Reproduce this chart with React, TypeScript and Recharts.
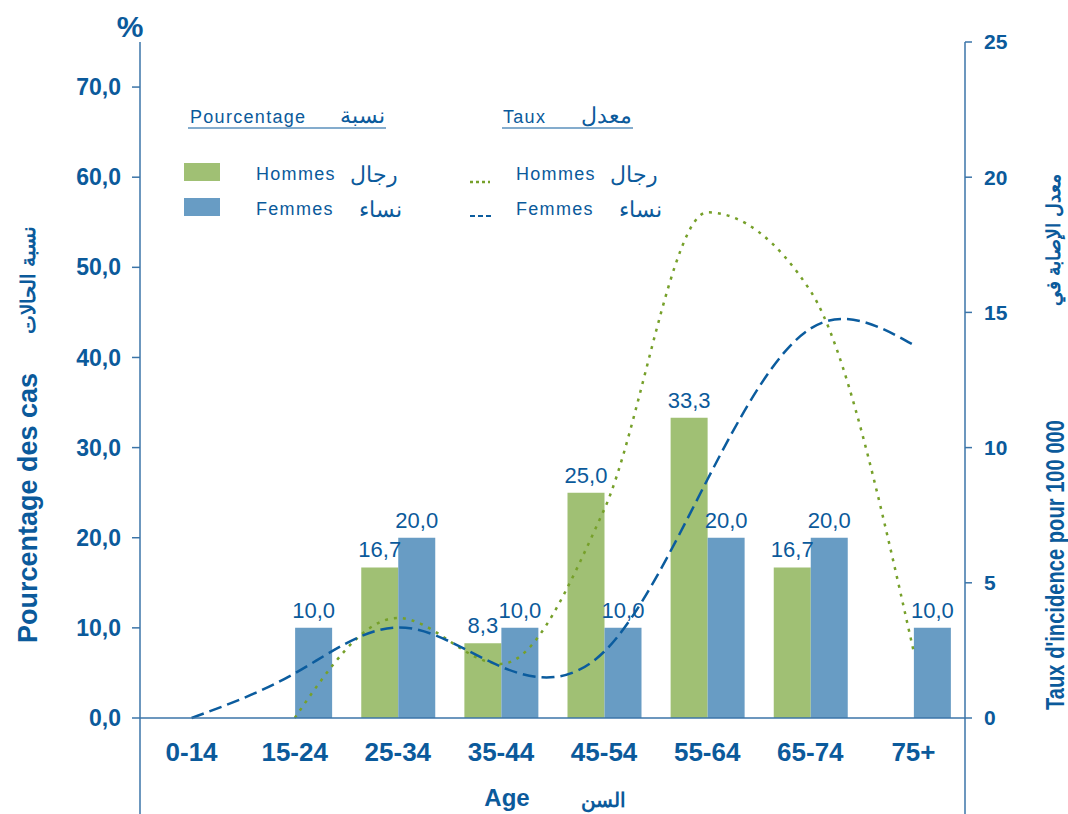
import { Bar, ComposedChart, LabelList, Line, XAxis, YAxis } from "recharts"

const ages = ["0-14", "15-24", "25-34", "35-44", "45-54", "55-64", "65-74", "75+"]
const pctHommes = [0, 0, 16.7, 8.3, 25.0, 33.3, 16.7, 0]
const pctFemmes = [0, 10.0, 20.0, 10.0, 10.0, 20.0, 20.0, 10.0]
const tauxHommes = [null, 0, 3.7, 2.0, 7.7, 18.7, 15.8, 2.5]
const tauxFemmes = [0, 1.65, 3.35, 1.9, 2.45, 8.8, 14.4, 13.8]
const pctTicks = [0, 10, 20, 30, 40, 50, 60, 70]
const tauxTicks = [0, 5, 10, 15, 20, 25]

const data = ages.map((age, i) => ({
  age,
  pctH: pctHommes[i],
  pctF: pctFemmes[i],
  tauxH: tauxHommes[i],
  tauxF: tauxFemmes[i],
}))

const TEXT = "#0b5a9b"
const AXIS = "#3b74a8"
const GREEN = "#a0c074"
const BLUE = "#689cc4"
const GREEN_LINE = "#76a02a"
const BLUE_LINE = "#0b5c9e"
const SANS = "'Liberation Sans', Arial, sans-serif"
const NARROW = "'Liberation Sans Narrow', 'Liberation Sans', Arial, sans-serif"

const fmt = (v: any) => (v ? Number(v).toFixed(1).replace(".", ",") : "")

function Overlay() {
  const latin = { fontFamily: SANS, fontSize: 18, fill: TEXT, letterSpacing: 1.3 }
  const arabic = { fontFamily: SANS, fontSize: 22, fill: TEXT }
  return (
    <svg width={1068} height={814} style={{ position: "absolute", left: 0, top: 0, pointerEvents: "none" }}>
      {/* axis lines continue below the category axis */}
      <line x1={140} y1={718} x2={140} y2={814} stroke={AXIS} strokeWidth={1.5} />
      <line x1={965} y1={718} x2={965} y2={814} stroke={AXIS} strokeWidth={1.5} />

      <text x={130} y={37} textAnchor="middle" fontFamily={SANS} fontWeight="bold" fontSize={30} fill={TEXT}>%</text>

      {/* legend */}
      <text x={190} y={123} {...latin}>Pourcentage</text>
      <text x={385} y={123} textAnchor="end" {...arabic}>نسبة</text>
      <line x1={188} y1={128} x2={386} y2={128} stroke={TEXT} strokeWidth={1.2} />
      <text x={503} y={123} {...latin}>Taux</text>
      <text x={632} y={123} textAnchor="end" {...arabic}>معدل</text>
      <line x1={502} y1={128} x2={633} y2={128} stroke={TEXT} strokeWidth={1.2} />

      <rect x={184} y={163} width={36} height={18} fill={GREEN} />
      <text x={256} y={180} {...latin}>Hommes</text>
      <text x={398} y={182} textAnchor="end" {...arabic}>رجال</text>
      <rect x={184} y={198} width={36} height={18} fill={BLUE} />
      <text x={256} y={215} {...latin}>Femmes</text>
      <text x={402} y={217} textAnchor="end" {...arabic}>نساء</text>

      <line x1={470} y1={182} x2={490} y2={182} stroke={GREEN_LINE} strokeWidth={2.5} strokeDasharray="3 3" />
      <text x={516} y={180} {...latin}>Hommes</text>
      <text x={658} y={182} textAnchor="end" {...arabic}>رجال</text>
      <line x1={470} y1={216} x2={492} y2={216} stroke={BLUE_LINE} strokeWidth={2} strokeDasharray="5 3" />
      <text x={516} y={215} {...latin}>Femmes</text>
      <text x={662} y={217} textAnchor="end" {...arabic}>نساء</text>

      {/* axis titles */}
      <text transform="translate(37,508) rotate(-90)" textAnchor="middle" fontFamily={NARROW} fontWeight="bold" fontSize={27} fill={TEXT}>
        Pourcentage des cas
      </text>
      <text transform="translate(35,280) rotate(-90)" textAnchor="middle" fontFamily={SANS} fontWeight="bold" fontSize={20} fill={TEXT}>
        نسبة الحالات
      </text>
      <text
        transform="translate(1064,565) rotate(-90)"
        textAnchor="middle"
        fontFamily={NARROW}
        fontWeight="bold"
        fontSize={25}
        fill={TEXT}
        textLength={290}
        lengthAdjust="spacingAndGlyphs"
      >
        Taux d'incidence pour 100 000
      </text>
      <text transform="translate(1060,240) rotate(-90)" textAnchor="middle" fontFamily={SANS} fontWeight="bold" fontSize={19} fill={TEXT}>
        معدل الإصابة في
      </text>

      <text x={507} y={806} textAnchor="middle" fontFamily={SANS} fontWeight="bold" fontSize={24} fill={TEXT}>Age</text>
      <text x={603} y={807} textAnchor="middle" fontFamily={SANS} fontWeight="bold" fontSize={20} fill={TEXT}>السن</text>
    </svg>
  )
}

export default function App() {
  return (
    <div style={{ position: "absolute", left: 0, top: 0, width: 1068, height: 814, background: "#fff" }}>
      <ComposedChart
        width={1068}
        height={814}
        data={data}
        margin={{ top: 42, right: 43, bottom: 46, left: 60 }}
        barGap={0}
      >
        <XAxis
          dataKey="age"
          height={50}
          axisLine={{ stroke: AXIS, strokeWidth: 1.5 }}
          tickLine={false}
          tickMargin={19}
          interval={0}
          tick={{ fill: TEXT, fontFamily: NARROW, fontWeight: "bold", fontSize: 26 }}
        />
        <YAxis
          yAxisId="pct"
          width={80}
          domain={[0, 75]}
          ticks={pctTicks}
          allowDataOverflow
          axisLine={{ stroke: AXIS, strokeWidth: 1.5 }}
          tickLine={{ stroke: AXIS, strokeWidth: 1.5 }}
          tickSize={8}
          tickMargin={11}
          tickFormatter={(v: number) => v.toFixed(1).replace(".", ",")}
          tick={{ fill: TEXT, fontFamily: SANS, fontWeight: "bold", fontSize: 23 }}
        />
        <YAxis
          yAxisId="rate"
          orientation="right"
          width={60}
          domain={[0, 25]}
          ticks={tauxTicks}
          axisLine={{ stroke: AXIS, strokeWidth: 1.5 }}
          tickLine={{ stroke: AXIS, strokeWidth: 1.5 }}
          tickSize={7}
          tickMargin={12}
          tick={{ fill: TEXT, fontFamily: SANS, fontWeight: "bold", fontSize: 21 }}
        />
        <Bar yAxisId="pct" dataKey="pctH" fill={GREEN} barSize={37} isAnimationActive={false}>
          <LabelList dataKey="pctH" position="top" offset={10} formatter={fmt} fill={TEXT} fontFamily={SANS} fontSize={22} />
        </Bar>
        <Bar yAxisId="pct" dataKey="pctF" fill={BLUE} barSize={37} isAnimationActive={false}>
          <LabelList dataKey="pctF" position="top" offset={10} formatter={fmt} fill={TEXT} fontFamily={SANS} fontSize={22} />
        </Bar>
        <Line
          yAxisId="rate"
          type="monotone"
          dataKey="tauxH"
          stroke={GREEN_LINE}
          strokeWidth={2.5}
          strokeDasharray="3 6"
          dot={false}
          activeDot={false}
          isAnimationActive={false}
        />
        <Line
          yAxisId="rate"
          type="natural"
          dataKey="tauxF"
          stroke={BLUE_LINE}
          strokeWidth={2.5}
          strokeDasharray="13 6"
          dot={false}
          activeDot={false}
          isAnimationActive={false}
        />
      </ComposedChart>
      <Overlay />
    </div>
  )
}
